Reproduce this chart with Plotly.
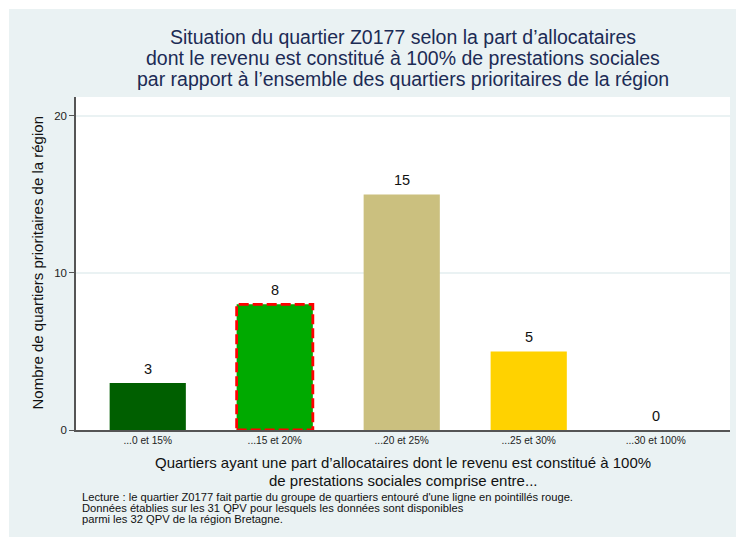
import plotly.graph_objects as go

# ---- data ----
categories = ["...0 et 15%", "...15 et 20%", "...20 et 25%", "...25 et 30%", "...30 et 100%"]
counts = [3, 8, 15, 5, 0]
bar_colors = ["#005F00", "#00AA00", "#CBC07F", "#FFD200", "#E0301E"]
highlight_index = 1
y_ticks = [0, 10, 20]

title_lines = [
    "Situation du quartier Z0177 selon la part d\u2019allocataires",
    "dont le revenu est constitu\u00e9 \u00e0 100% de prestations sociales",
    "par rapport \u00e0 l\u2019ensemble des quartiers prioritaires de la r\u00e9gion",
]
xtitle_lines = [
    "Quartiers ayant une part d\u2019allocataires dont le revenu est constitu\u00e9 \u00e0 100%",
    "de prestations sociales comprise entre...",
]
ytitle = "Nombre de quartiers prioritaires de la r\u00e9gion"
note_lines = [
    "Lecture : le quartier Z0177 fait partie du groupe de quartiers entour\u00e9 d'une ligne en pointill\u00e9s rouge.",
    "Donn\u00e9es \u00e9tablies sur les 31 QPV pour lesquels les donn\u00e9es sont disponibles",
    "parmi les 32 QPV de la r\u00e9gion Bretagne.",
]

# ---- geometry ----
W, H = 737, 537
ML, MR, MT, MB = 76, 7, 97, 107
PW = W - ML - MR
PH = H - MT - MB
BAR_W = 0.6
FONT = "Liberation Sans, Arial, sans-serif"
BG = "#EAF2F3"
TXT = "#1C2B55"


def px_x(px):
    return (px - ML) / PW


def px_y(py):
    return (H - MB - py) / PH


xpos = list(range(len(categories)))

fig = go.Figure()
fig.add_trace(go.Bar(
    x=xpos, y=counts, width=BAR_W,
    marker=dict(color=bar_colors, line=dict(width=0)),
    hoverinfo="skip",
))

annotations = []
# value labels
for i, v in zip(xpos, counts):
    annotations.append(dict(
        x=i, y=v, xref="x", yref="y", text=str(v), showarrow=False,
        yanchor="bottom", yshift=4, font=dict(family=FONT, size=14.5, color="#111111"),
    ))
# title lines
for line, py in zip(title_lines, [37.5, 58, 78.5]):
    annotations.append(dict(
        x=0.5, y=px_y(py), xref="paper", yref="paper", text=line, showarrow=False,
        xanchor="center", yanchor="middle", font=dict(family=FONT, size=19.5, color=TXT),
    ))
# x title
for line, py in zip(xtitle_lines, [462, 480]):
    annotations.append(dict(
        x=0.5, y=px_y(py), xref="paper", yref="paper", text=line, showarrow=False,
        xanchor="center", yanchor="middle", font=dict(family=FONT, size=15, color="#111111"),
    ))
# y title
annotations.append(dict(
    x=px_x(37), y=0.5, xref="paper", yref="paper", text=ytitle, showarrow=False,
    textangle=-90, xanchor="center", yanchor="middle",
    font=dict(family=FONT, size=15, color="#111111"),
))
# note
for line, py in zip(note_lines, [497, 508, 519]):
    annotations.append(dict(
        x=px_x(80), y=px_y(py), xref="paper", yref="paper", text=line, showarrow=False,
        xanchor="left", yanchor="middle", font=dict(family=FONT, size=11.2, color="#111111"),
    ))

shapes = [
    # highlight dashed red border around the group containing the quartier
    dict(type="rect", xref="x", yref="y",
         x0=xpos[highlight_index] - BAR_W / 2, x1=xpos[highlight_index] + BAR_W / 2,
         y0=0, y1=counts[highlight_index],
         line=dict(color="#FF0000", width=2.8, dash="10px,4px"), fillcolor="rgba(0,0,0,0)",
         layer="above"),
    # thin white frame around the graph region
    dict(type="rect", xref="paper", yref="paper", x0=px_x(0), x1=px_x(W), y0=px_y(9), y1=px_y(0),
         line=dict(width=0), fillcolor="white", layer="above"),
    dict(type="rect", xref="paper", yref="paper", x0=px_x(0), x1=px_x(9), y0=px_y(H), y1=px_y(0),
         line=dict(width=0), fillcolor="white", layer="above"),
    dict(type="rect", xref="paper", yref="paper", x0=px_x(736), x1=px_x(W), y0=px_y(H), y1=px_y(0),
         line=dict(width=0), fillcolor="white", layer="above"),
]

fig.update_layout(
    width=W, height=H,
    margin=dict(l=ML, r=MR, t=MT, b=MB, pad=0),
    paper_bgcolor=BG, plot_bgcolor="white",
    showlegend=False,
    font=dict(family=FONT, color="#111111"),
    annotations=annotations,
    shapes=shapes,
    xaxis=dict(
        range=[-0.565, len(categories) - 1 + 0.585],
        tickmode="array", tickvals=xpos, ticktext=categories,
        tickfont=dict(family=FONT, size=10.2, color="#222222"),
        showline=True, linecolor="#555555", linewidth=1.5,
        showgrid=False, zeroline=False, ticks="", fixedrange=True,
    ),
    yaxis=dict(
        range=[0, 21.2],
        tickmode="array", tickvals=y_ticks,
        tickfont=dict(family=FONT, size=11.5, color="#222222"),
        showline=True, linecolor="#555555", linewidth=1.5,
        ticks="outside", ticklen=5, tickcolor="#555555", tickwidth=1,
        showgrid=True, gridcolor=BG, gridwidth=1.5,
        zeroline=False, fixedrange=True,
    ),
)

fig.write_html(
    "out.html",
    config={"displayModeBar": False},
    post_script="document.body.style.margin='0';document.body.style.overflow='hidden';",
)
